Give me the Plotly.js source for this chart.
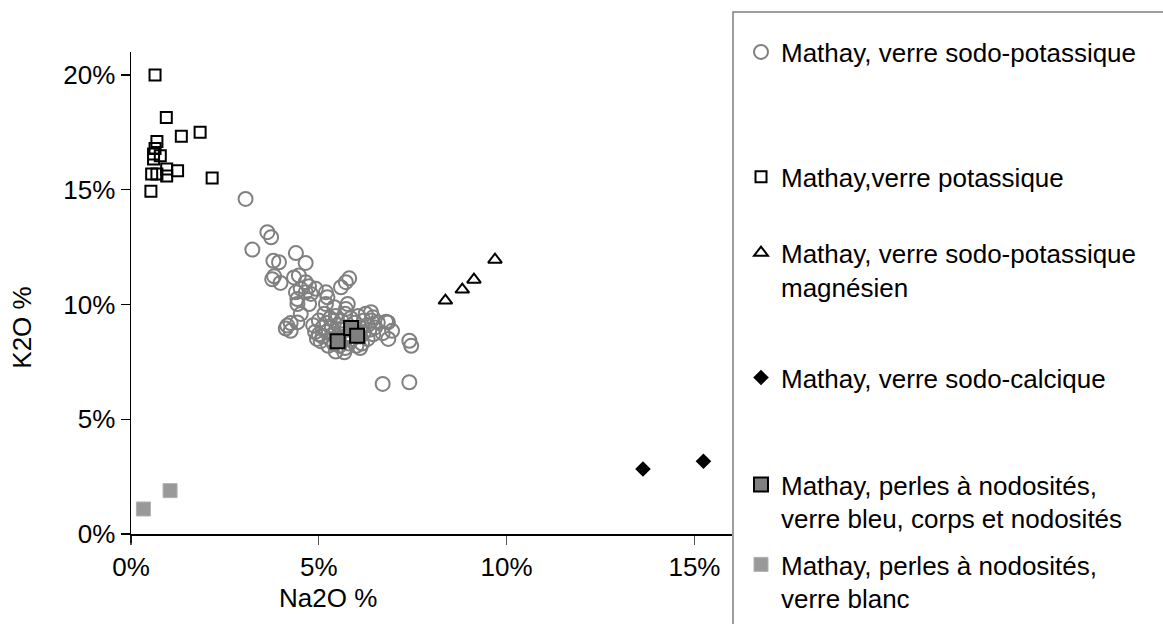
<!DOCTYPE html>
<html>
<head>
<meta charset="utf-8">
<script src="https://cdn.plot.ly/plotly-3.0.1.min.js"></script>
<style>html,body{margin:0;padding:0;background:#fff;}#chart{width:1163px;height:624px;}</style>
</head>
<body>
<div id="chart"></div>
<script>
// Series names
const names = [
  "Mathay, verre sodo-potassique",
  "Mathay,verre potassique",
  "Mathay, verre sodo-potassique<br>magnésien",
  "Mathay, verre sodo-calcique",
  "Mathay, perles à nodosités,<br>verre bleu, corps et nodosités",
  "Mathay, perles à nodosités,<br>verre blanc"
];

// Mathay, verre sodo-potassique (Na2O %, K2O %)
const sodoPotNa = [3.05,3.63,3.73,3.23,4.39,3.79,3.94,4.65,3.81,3.76,3.98,4.34,4.47,4.65,4.74,4.92,4.39,4.52,4.65,4.79,
  5.19,5.23,5.59,5.72,5.81,4.43,4.43,4.74,5.19,5.41,5.77,5.72,4.52,6.39,6.44,6.79,4.16,4.25,4.12,4.25,
  4.43,5.68,6.57,6.84,6.70,6.95,6.85,7.41,7.46,6.70,7.41,
  4.9,5.0,5.1,5.1,5.2,5.2,5.3,5.3,5.35,5.4,5.4,5.45,5.5,5.5,5.55,5.6,5.6,5.65,5.7,5.7,
  5.75,5.8,5.8,5.85,5.9,5.9,5.95,6.0,6.0,6.05,6.1,6.1,6.15,6.2,6.2,6.25,6.3,6.3,6.35,6.4,
  5.0,5.05,5.15,5.25,4.85,4.95,6.45,6.5,6.1,5.45];
const sodoPotK = [14.6,13.15,12.93,12.39,12.24,11.9,11.84,11.81,11.23,11.1,10.94,11.18,11.26,10.97,10.79,10.68,10.53,10.68,10.53,10.46,
  10.53,10.31,10.75,10.97,11.14,10.24,10.02,10.02,10.02,9.88,10.02,9.8,9.59,9.66,9.44,9.25,9.08,9.19,8.95,8.85,
  9.22,7.92,9.22,9.22,8.75,8.85,8.5,8.42,8.2,6.54,6.61,
  8.8,8.7,9.0,8.6,9.2,8.8,8.5,9.4,9.0,8.7,8.3,9.5,9.1,8.6,8.2,9.3,8.9,8.5,9.6,8.1,
  9.0,8.7,8.3,9.4,8.9,8.5,9.2,8.8,8.2,9.5,9.0,8.6,8.3,9.3,8.8,9.6,9.1,8.5,8.9,9.3,
  9.3,8.4,9.6,8.2,9.1,8.5,8.7,9.0,8.1,7.95];

// Mathay, verre potassique
const potNa = [0.64,0.94,1.34,1.84,0.69,0.64,0.60,0.78,0.60,0.55,0.69,0.95,0.95,1.24,2.16,0.53];
const potK  = [20.0,18.15,17.33,17.5,17.1,16.8,16.56,16.48,16.34,15.69,15.69,15.9,15.6,15.83,15.51,14.93];

// Mathay, verre sodo-potassique magnésien
const magNa = [9.69,9.13,8.82,8.37];
const magK  = [11.95,11.08,10.65,10.17];

// Mathay, verre sodo-calcique
const calNa = [13.63,15.24];
const calK  = [2.83,3.17];

// Mathay, perles à nodosités, verre bleu
const bleuNa = [5.50,5.86,6.02];
const bleuK  = [8.40,8.98,8.64];

// Mathay, perles à nodosités, verre blanc
const blancNa = [0.33,1.04];
const blancK  = [1.09,1.89];

// Axis ticks
const xTicks = [0, 0.05, 0.10, 0.15];
const yTicks = [0, 0.05, 0.10, 0.15, 0.20];

const pct = a => a.map(v => v / 100);

// layout geometry (pixels)
const W = 1163, H = 624;
const L = 131, R = 732, T = 52, B = 534.5;
const px2paperX = p => (p - L) / (R - L);
const px2paperY = p => (B - p) / (B - T);

const FONT = "Liberation Sans, Arial, sans-serif";
const FS = 26;

const traces = [
  {x: pct(sodoPotNa), y: pct(sodoPotK), name: names[0], legend: "legend",
   marker: {symbol: "circle-open", size: 14, color: "#808080", line: {width: 2, color: "#808080"}}},
  {x: pct(potNa), y: pct(potK), name: names[1], legend: "legend2",
   marker: {symbol: "square-open", size: 11, color: "#000", line: {width: 2, color: "#000"}}},
  {x: pct(magNa), y: pct(magK), name: names[2], legend: "legend3",
   marker: {symbol: "triangle-up-open", size: 12, color: "#000", line: {width: 2, color: "#000"}}},
  {x: pct(calNa), y: pct(calK), name: names[3], legend: "legend4",
   marker: {symbol: "diamond", size: 12, color: "#000", line: {width: 0}}},
  {x: pct(bleuNa), y: pct(bleuK), name: names[4], legend: "legend5",
   marker: {symbol: "square", size: 14, color: "#808080", line: {width: 2, color: "#000"}}},
  {x: pct(blancNa), y: pct(blancK), name: names[5], legend: "legend6",
   marker: {symbol: "square", size: 14, color: "#999999", line: {width: 1, color: "#b0b0b0"}}}
].map(t => Object.assign({type: "scatter", mode: "markers", hoverinfo: "x+y"}, t));

const legendCenters = [52, 177, 270, 378, 502, 582];
const legX = px2paperX(741);
const mkLegend = (cy) => ({
  x: legX, xanchor: "left", y: px2paperY(cy), yanchor: "middle",
  bgcolor: "rgba(0,0,0,0)", borderwidth: 0, valign: "top",
  font: {family: FONT, size: FS, color: "#000"}, itemsizing: "trace"
});

const layout = {
  width: W, height: H,
  margin: {l: L, r: W - R, t: T, b: H - B, pad: 0, autoexpand: false},
  paper_bgcolor: "#fff", plot_bgcolor: "#fff",
  font: {family: FONT, size: FS, color: "#000"},
  showlegend: true,
  legend: mkLegend(legendCenters[0]),
  legend2: mkLegend(legendCenters[1]),
  legend3: mkLegend(legendCenters[2]),
  legend4: mkLegend(legendCenters[3]),
  legend5: mkLegend(legendCenters[4]),
  legend6: mkLegend(legendCenters[5]),
  xaxis: {
    range: [0, 0.16], tickvals: xTicks, tickformat: ".0%",
    showgrid: false, zeroline: false, showline: true, linecolor: "#000", linewidth: 1.5,
    ticks: "outside", ticklen: 9, tickwidth: 1.2, tickcolor: "#555",
    automargin: false,
    tickfont: {family: FONT, size: FS, color: "#000"}
  },
  yaxis: {
    range: [0, 0.21], tickvals: yTicks, tickformat: ".0%",
    showgrid: false, zeroline: false, showline: true, linecolor: "#000", linewidth: 1.5,
    ticks: "outside", ticklen: 9, tickwidth: 1.2, tickcolor: "#000", automargin: false,
    tickfont: {family: FONT, size: FS, color: "#000"}
  },
  annotations: [
    {text: "Na2O %", xref: "paper", yref: "paper", x: px2paperX(328), y: px2paperY(599),
     xanchor: "center", yanchor: "middle", showarrow: false, font: {family: FONT, size: FS, color: "#000"}},
    {text: "K2O %", xref: "paper", yref: "paper", x: px2paperX(22), y: px2paperY(328),
     xanchor: "center", yanchor: "middle", showarrow: false, textangle: -90,
     font: {family: FONT, size: FS, color: "#000"}}
  ],
  shapes: [
    {type: "rect", xref: "paper", yref: "paper",
     x0: px2paperX(733), x1: px2paperX(1175), y0: px2paperY(640), y1: px2paperY(12),
     line: {color: "#7f7f7f", width: 1.5}, fillcolor: "rgba(0,0,0,0)", layer: "below"},
    {type: "line", xref: "paper", yref: "paper",
     x0: 0, x1: 0, y0: px2paperY(534.5), y1: px2paperY(543.5),
     line: {color: "#000", width: 1.5}}
  ]
};

Plotly.newPlot("chart", traces, layout, {staticPlot: true, displayModeBar: false});
</script>
</body>
</html>
